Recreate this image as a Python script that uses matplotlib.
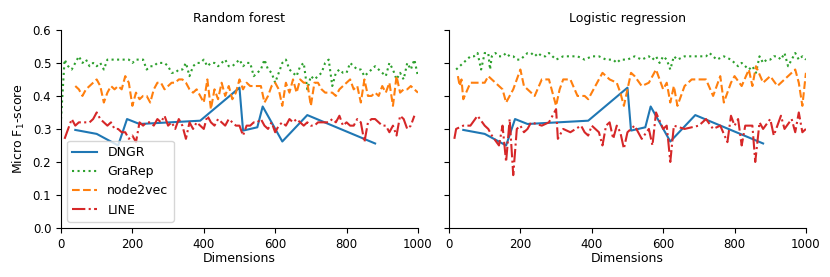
import matplotlib
matplotlib.use("Agg")
import matplotlib.pyplot as plt
import numpy as np

# DNGR (same points in both panels)
dngr_dims = [40, 100, 160, 185, 220, 390, 500, 510, 550, 565, 620, 690, 880]
dngr_score = [0.297, 0.285, 0.25, 0.33, 0.315, 0.325, 0.425, 0.295, 0.305, 0.368, 0.262, 0.342, 0.256]

# Random forest
rf_grarep_dims = np.arange(0, 1001, 10)
rf_grarep = [0.33, 0.51, 0.49, 0.48, 0.50, 0.52, 0.50, 0.51, 0.49, 0.50,
             0.49, 0.50, 0.48, 0.51, 0.51, 0.51, 0.51, 0.51, 0.51, 0.51,
             0.50, 0.51, 0.51, 0.51, 0.48, 0.49, 0.49, 0.50, 0.50, 0.50,
             0.49, 0.47, 0.47, 0.48, 0.48, 0.50, 0.46, 0.49, 0.50, 0.50,
             0.51, 0.49, 0.50, 0.50, 0.49, 0.50, 0.51, 0.49, 0.49, 0.50,
             0.51, 0.49, 0.50, 0.50, 0.46, 0.47, 0.48, 0.51, 0.48, 0.47,
             0.44, 0.47, 0.50, 0.51, 0.48, 0.47, 0.46, 0.49, 0.50, 0.42,
             0.46, 0.45, 0.46, 0.47, 0.50, 0.51, 0.43, 0.47, 0.48, 0.47,
             0.47, 0.50, 0.49, 0.48, 0.48, 0.46, 0.47, 0.48, 0.49, 0.48,
             0.47, 0.46, 0.50, 0.48, 0.45, 0.47, 0.45, 0.50, 0.48, 0.51,
             0.46]

rf_n2v_dims = np.arange(40, 1001, 10)
rf_n2v = [0.43, 0.42, 0.40, 0.42, 0.43, 0.44, 0.45, 0.43, 0.38, 0.41,
          0.43, 0.42, 0.43, 0.42, 0.46, 0.44, 0.37, 0.41, 0.39, 0.40,
          0.40, 0.38, 0.42, 0.44, 0.44, 0.42, 0.43, 0.44, 0.44, 0.45,
          0.45, 0.44, 0.42, 0.41, 0.42, 0.40, 0.38, 0.45, 0.36, 0.42,
          0.39, 0.44, 0.40, 0.43, 0.39, 0.41, 0.45, 0.42, 0.44, 0.43,
          0.43, 0.43, 0.43, 0.38, 0.40, 0.43, 0.44, 0.42, 0.37, 0.44,
          0.41, 0.45, 0.41, 0.45, 0.44, 0.44, 0.37, 0.44, 0.44, 0.42,
          0.41, 0.41, 0.41, 0.40, 0.42, 0.43, 0.44, 0.45, 0.42, 0.43,
          0.38, 0.45, 0.40, 0.40, 0.41, 0.40, 0.43, 0.41, 0.44, 0.37,
          0.46, 0.41, 0.42, 0.42, 0.43, 0.42, 0.41]

rf_line_dims = np.arange(10, 1000, 10)
rf_line = [0.27, 0.30, 0.33, 0.31, 0.32, 0.32, 0.32, 0.32, 0.33, 0.35,
           0.33, 0.32, 0.31, 0.32, 0.30, 0.30, 0.29, 0.29, 0.27, 0.28,
           0.26, 0.32, 0.31, 0.32, 0.32, 0.31, 0.33, 0.32, 0.34, 0.31,
           0.32, 0.30, 0.33, 0.31, 0.27, 0.32, 0.30, 0.32, 0.31, 0.30,
           0.34, 0.32, 0.31, 0.33, 0.32, 0.31, 0.33, 0.32, 0.31, 0.31,
           0.28, 0.31, 0.31, 0.32, 0.32, 0.33, 0.31, 0.30, 0.32, 0.29,
           0.31, 0.32, 0.31, 0.33, 0.32, 0.33, 0.32, 0.31, 0.32, 0.31,
           0.31, 0.32, 0.32, 0.32, 0.32, 0.33, 0.32, 0.34, 0.31, 0.32,
           0.31, 0.31, 0.33, 0.32, 0.26, 0.32, 0.33, 0.33, 0.32, 0.31,
           0.31, 0.29, 0.31, 0.28, 0.34, 0.33, 0.30, 0.31, 0.34]

# Logistic regression
lr_grarep_dims = [20, 30, 40, 50, 60, 70, 80, 90, 100, 110, 115, 120, 130, 140, 150,
                  160, 170, 180, 190, 200, 210, 220, 230, 240, 250, 260, 270, 280,
                  290, 300, 320, 340, 360, 380, 400, 420, 440, 460, 470, 480, 500,
                  520, 540, 560, 570, 580, 590, 600, 610, 620, 630, 640, 660, 680,
                  700, 720, 730, 740, 750, 770, 790, 800, 810, 820, 830, 840, 850,
                  860, 870, 880, 890, 900, 910, 920, 930, 940, 950, 960, 970, 980,
                  990, 1000]
lr_grarep = [0.48, 0.49, 0.50, 0.51, 0.52, 0.52, 0.53, 0.48, 0.53, 0.53, 0.48, 0.52,
             0.53, 0.52, 0.52, 0.53, 0.52, 0.52, 0.51, 0.51, 0.52, 0.53, 0.53, 0.52,
             0.53, 0.52, 0.52, 0.53, 0.52, 0.51, 0.52, 0.52, 0.52, 0.51, 0.52, 0.52,
             0.51, 0.51, 0.50, 0.51, 0.51, 0.52, 0.51, 0.52, 0.51, 0.52, 0.50, 0.52,
             0.51, 0.48, 0.52, 0.51, 0.52, 0.52, 0.52, 0.52, 0.53, 0.52, 0.51, 0.52,
             0.51, 0.50, 0.49, 0.50, 0.49, 0.48, 0.49, 0.47, 0.52, 0.50, 0.51, 0.51,
             0.52, 0.52, 0.51, 0.53, 0.49, 0.51, 0.53, 0.51, 0.52, 0.51]

lr_n2v_dims = [25, 30, 35, 40, 60, 80, 100, 110, 130, 150, 160, 180, 200, 210, 220,
               240, 260, 280, 300, 310, 320, 340, 360, 380, 390, 410, 430, 450, 470,
               480, 490, 500, 510, 520, 540, 560, 580, 600, 610, 620, 630, 640, 660,
               680, 700, 720, 740, 760, 770, 790, 800, 820, 840, 850, 860, 880, 900,
               920, 940, 960, 970, 980, 990, 1000]
lr_n2v = [0.46, 0.43, 0.45, 0.39, 0.44, 0.44, 0.44, 0.46, 0.44, 0.42, 0.38, 0.42,
          0.48, 0.43, 0.42, 0.40, 0.45, 0.45, 0.37, 0.42, 0.45, 0.45, 0.40, 0.40,
          0.39, 0.43, 0.47, 0.45, 0.44, 0.41, 0.37, 0.42, 0.47, 0.46, 0.43, 0.44,
          0.48, 0.42, 0.44, 0.38, 0.43, 0.37, 0.43, 0.45, 0.45, 0.45, 0.40, 0.46,
          0.38, 0.44, 0.46, 0.43, 0.48, 0.43, 0.49, 0.44, 0.46, 0.43, 0.45, 0.47,
          0.48, 0.44, 0.37, 0.47]

lr_line_dims = [15, 20, 40, 60, 80, 100, 110, 120, 140, 150, 160, 170, 180, 190, 200,
                210, 220, 230, 260, 280, 300, 305, 320, 340, 370, 380, 390, 400, 420,
                430, 440, 450, 460, 470, 480, 490, 500, 520, 540, 560, 570, 580, 600,
                610, 620, 630, 660, 700, 720, 740, 760, 780, 790, 800, 810, 820, 830,
                850, 858, 870, 880, 900, 910, 930, 940, 960, 970, 980, 990, 1000]
lr_line = [0.27, 0.30, 0.31, 0.31, 0.34, 0.31, 0.30, 0.28, 0.25, 0.31, 0.20, 0.33,
           0.16, 0.30, 0.31, 0.29, 0.30, 0.32, 0.31, 0.32, 0.36, 0.27, 0.30, 0.29,
           0.31, 0.29, 0.28, 0.31, 0.29, 0.25, 0.31, 0.32, 0.27, 0.31, 0.29, 0.24,
           0.29, 0.31, 0.27, 0.30, 0.25, 0.35, 0.30, 0.31, 0.20, 0.31, 0.30, 0.31,
           0.33, 0.30, 0.31, 0.26, 0.34, 0.31, 0.33, 0.25, 0.31, 0.31, 0.20, 0.32,
           0.30, 0.33, 0.28, 0.34, 0.30, 0.33, 0.29, 0.35, 0.29, 0.30]

titles = ["Random forest", "Logistic regression"]

fig, axes = plt.subplots(1, 2, figsize=(8.3, 2.77), dpi=100, sharey=True)
fig.subplots_adjust(left=0.0735, right=0.971, top=0.892, bottom=0.177, wspace=0.087)

panels = [
    (rf_grarep_dims, rf_grarep, rf_n2v_dims, rf_n2v, rf_line_dims, rf_line),
    (lr_grarep_dims, lr_grarep, lr_n2v_dims, lr_n2v, lr_line_dims, lr_line),
]

for ax, title, (gx, gy, nx, ny, lx, ly) in zip(axes, titles, panels):
    ax.plot(dngr_dims, dngr_score, color="tab:blue", lw=1.5, label="DNGR")
    ax.plot(gx, gy, color="tab:green", ls=":", lw=1.5, label="GraRep")
    ax.plot(nx, ny, color="tab:orange", ls="--", lw=1.5, label="node2vec")
    ax.plot(lx, ly, color="tab:red", ls="-.", lw=1.5, label="LINE")
    ax.set_title(title, fontsize=9)
    ax.set_xlabel("Dimensions", fontsize=9, labelpad=1)
    ax.set_xlim(0, 1000)
    ax.set_ylim(0, 0.6)
    ax.set_xticks([0, 200, 400, 600, 800, 1000])
    ax.set_yticks(np.arange(0, 0.61, 0.1))
    ax.tick_params(labelsize=8.5)
    ax.spines["top"].set_visible(False)
    ax.spines["right"].set_visible(False)

axes[0].set_ylabel("Micro F$_1$-score", fontsize=9)
axes[0].legend(loc="lower left", fontsize=9)

fig.savefig("out.png", dpi=100)
